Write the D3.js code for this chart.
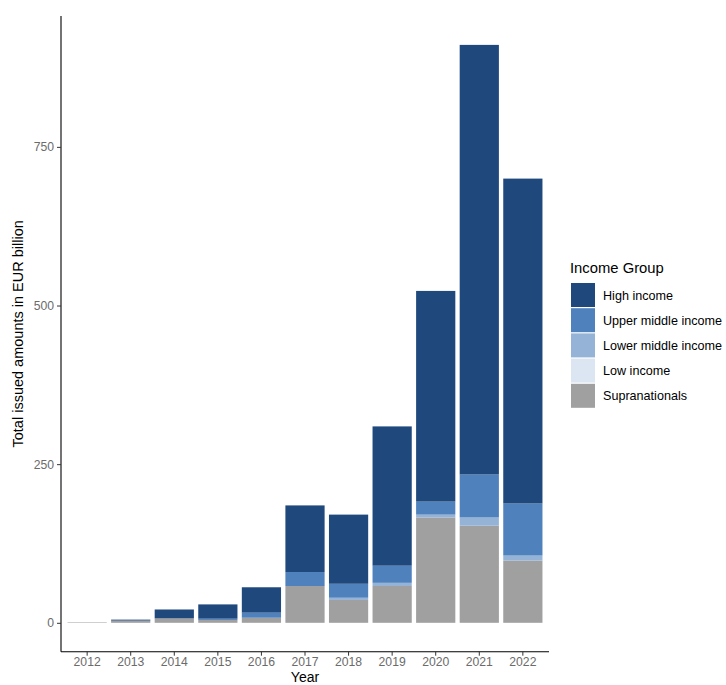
<!DOCTYPE html>
<html>
<head>
<meta charset="utf-8">
<script src="https://cdn.jsdelivr.net/npm/d3@7"></script>
<style>
  body { margin: 0; background: #fff; }
  text { font-family: "Liberation Sans", Arial, sans-serif; }
</style>
</head>
<body>
<svg id="chart" width="726" height="685"></svg>
<script>
const years = ["2012", "2013", "2014", "2015", "2016", "2017", "2018", "2019", "2020", "2021", "2022"];
const groups = ["Supranationals", "Low income", "Lower middle income", "Upper middle income", "High income"];
const legendOrder = ["High income", "Upper middle income", "Lower middle income", "Low income", "Supranationals"];
const groupColors = ["#a0a0a0", "#dce6f2", "#95b3d7", "#4f81bd", "#1f497d"];

const supranationals = [0.8, 3.5, 7, 4.5, 8, 58, 36, 58, 166, 153, 98];
const lowIncome = [0, 0, 0, 0, 0, 0, 0, 0, 0, 0, 0];
const lowerMiddle = [0, 0, 0, 0, 0, 0, 3.5, 5, 4.5, 13, 8];
const upperMiddle = [0, 0, 0, 2, 8, 22, 22, 27, 20.5, 67.7, 82];
const highIncome = [0, 1.5, 14, 22.5, 40, 105, 109, 219.5, 332, 677, 512];

const yTicks = [0, 250, 500, 750];

const rows = years.map((year, i) => ({
  year,
  "Supranationals": supranationals[i],
  "Low income": lowIncome[i],
  "Lower middle income": lowerMiddle[i],
  "Upper middle income": upperMiddle[i],
  "High income": highIncome[i]
}));

const svg = d3.select("#chart");
const padLeft = 61, padRight = 549, padTop = 16, padBottom = 651.7;

const totalMax = d3.max(rows, (r) => d3.sum(groups, (g) => r[g]));
const pad = totalMax * 0.05;

const x = d3.scaleBand().domain(years).range([padLeft, padRight]).paddingInner(0.1).paddingOuter(0.15);
const y = d3.scaleLinear().domain([-pad, totalMax + pad]).range([padBottom, padTop]);
const color = d3.scaleOrdinal().domain(groups).range(groupColors);

const stacked = d3.stack().keys(groups)(rows);

svg.append("g")
  .selectAll("g")
  .data(stacked)
  .join("g")
  .attr("fill", (s) => color(s.key))
  .selectAll("rect")
  .data((s) => s)
  .join("rect")
  .attr("x", (d) => x(d.data.year))
  .attr("width", x.bandwidth())
  .attr("y", (d) => y(d[1]))
  .attr("height", (d) => Math.max(0, y(d[0]) - y(d[1])));

// axes
const yAxis = svg.append("g")
  .attr("transform", `translate(${padLeft},0)`)
  .call(d3.axisLeft(y).tickValues(yTicks).tickSize(4).tickPadding(3));
const xAxis = svg.append("g")
  .attr("transform", `translate(0,${padBottom})`)
  .call(d3.axisBottom(x).tickSize(4).tickPadding(2).tickSizeOuter(0));

[yAxis, xAxis].forEach((ax) => {
  ax.select(".domain").attr("stroke", "#000").attr("stroke-width", 1.1);
  ax.selectAll(".tick line").attr("stroke", "#333");
  ax.selectAll(".tick text").attr("fill", "#6b6b6b").attr("font-size", 12.2);
});
yAxis.select(".domain").attr("d", `M0,${padTop}V${padBottom}`);
xAxis.select(".domain").attr("d", `M${padLeft},0H${padRight}`);

svg.append("text")
  .attr("transform", `translate(23,${(padTop + padBottom) / 2}) rotate(-90)`)
  .attr("text-anchor", "middle")
  .attr("font-size", 14.5)
  .text("Total issued amounts in EUR billion");

svg.append("text")
  .attr("x", (padLeft + padRight) / 2)
  .attr("y", 682)
  .attr("text-anchor", "middle")
  .attr("font-size", 14)
  .text("Year");

// legend
const legend = svg.append("g").attr("transform", "translate(571,262)");
legend.append("text")
  .attr("x", -1)
  .attr("y", 11)
  .attr("font-size", 14.8)
  .text("Income Group");

const items = legend.selectAll("g.item")
  .data(legendOrder)
  .join("g")
  .attr("class", "item")
  .attr("transform", (d, i) => `translate(0,${21 + i * 25.2})`);
items.append("rect")
  .attr("width", 24)
  .attr("height", 24)
  .attr("fill", (d) => color(d));
items.append("text")
  .attr("x", 32)
  .attr("y", 16.5)
  .attr("font-size", 12.6)
  .text((d) => d);
</script>
</body>
</html>
